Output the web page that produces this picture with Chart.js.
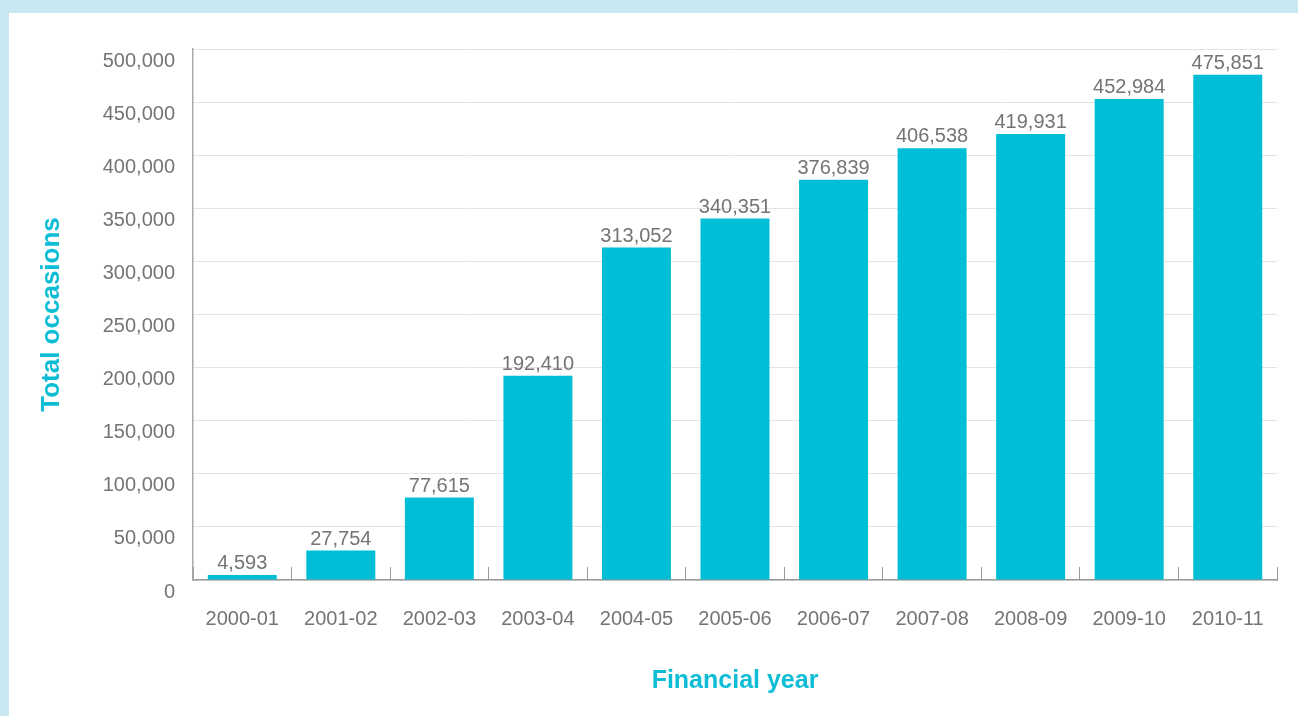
<!DOCTYPE html>
<html>
<head>
<meta charset="utf-8">
<title>Total occasions by financial year</title>
<script src="https://cdn.jsdelivr.net/npm/chart.js@4/dist/chart.umd.min.js"></script>
<style>
    html, body { margin: 0; padding: 0; }
    body { width: 1298px; height: 716px; background: #c8e8f1; position: relative; overflow: hidden; }
    .panel { position: absolute; left: 9px; top: 13px; right: 0; bottom: 0; background: #ffffff; }
    #occasionsChart { position: absolute; left: 0; top: 0; }
</style>
</head>
<body>
<div class="panel"></div>
<canvas id="occasionsChart" width="1298" height="716"></canvas>
<script>
const years = ['2000-01', '2001-02', '2002-03', '2003-04', '2004-05', '2005-06',
    '2006-07', '2007-08', '2008-09', '2009-10', '2010-11'];
const occasions = [4593, 27754, 77615, 192410, 313052, 340351, 376839, 406538, 419931, 452984, 475851];
const yMax = 500000;
const yStep = 50000;

const barColor = '#00bed6';
const textGrey = '#747474';
const fontFamily = '"Liberation Sans", Arial, Helvetica, sans-serif';

// Value labels above each bar
const valueLabels = {
    id: 'valueLabels',
    afterDatasetsDraw(chart) {
        const ctx = chart.ctx;
        const meta = chart.getDatasetMeta(0);
        ctx.save();
        ctx.font = '20px ' + fontFamily;
        ctx.fillStyle = textGrey;
        ctx.textAlign = 'center';
        ctx.textBaseline = 'alphabetic';
        meta.data.forEach((bar, i) => {
            ctx.fillText(occasions[i].toLocaleString('en-US'), bar.x, bar.y - 6);
        });
        ctx.restore();
    }
};

const ctx = document.getElementById('occasionsChart').getContext('2d');
const occasionsChart = new Chart(ctx, {
    type: 'bar',
    data: {
        labels: years,
        datasets: [{
            label: 'Total occasions',
            data: occasions,
            backgroundColor: barColor,
            borderWidth: 0,
            barPercentage: 0.7,
            categoryPercentage: 1.0
        }]
    },
    options: {
        responsive: false,
        animation: false,
        layout: {
            padding: { top: 49, right: 21, bottom: 0, left: 0 }
        },
        plugins: {
            legend: { display: false },
            tooltip: { enabled: false }
        },
        scales: {
            x: {
                grid: {
                    offset: true,
                    drawOnChartArea: false,
                    drawTicks: true,
                    tickLength: -13,
                    tickColor: '#9a9a9a',
                    lineWidth: 1
                },
                border: { display: true, color: '#9a9a9a', width: 1.5 },
                ticks: {
                    color: textGrey,
                    font: { family: fontFamily, size: 20 },
                    padding: 40,
                    maxRotation: 0
                },
                title: {
                    display: true,
                    text: 'Financial year',
                    color: '#0dbdd6',
                    font: { family: fontFamily, size: 25, weight: 'bold' },
                    padding: { top: 0, bottom: 20 }
                },
                afterFit(scale) {
                    scale.height = 136;
                    // labels sit inside their categories, no edge room needed
                    scale.paddingLeft = 0;
                    scale.paddingRight = 0;
                }
            },
            y: {
                min: 0,
                max: yMax,
                grid: {
                    color: '#e4e4e4',
                    lineWidth: 1,
                    drawTicks: false
                },
                border: { display: true, color: '#aaaaaa', width: 1.5 },
                ticks: {
                    stepSize: yStep,
                    color: textGrey,
                    font: { family: fontFamily, size: 20 },
                    padding: 18,
                    labelOffset: 12,
                    callback: value => value.toLocaleString('en-US')
                },
                title: {
                    display: true,
                    text: 'Total occasions',
                    color: '#0dbdd6',
                    font: { family: fontFamily, size: 26, weight: 'bold' },
                    padding: { top: 36, bottom: 0 }
                },
                afterFit(scale) {
                    scale.width = 193;
                }
            }
        }
    },
    plugins: [valueLabels]
});
</script>
</body>
</html>
